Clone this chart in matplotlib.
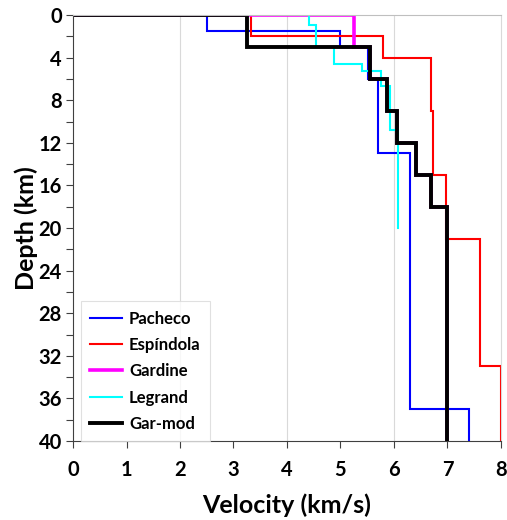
import matplotlib
matplotlib.use("Agg")
import matplotlib.pyplot as plt
from matplotlib.ticker import MultipleLocator

plt.rcParams['font.family'] = ['Lato', 'DejaVu Sans']
plt.rcParams['font.weight'] = 'bold'

# Layer-boundary depths (km) and layer velocities (km/s); start velocity at surface
pacheco_depth = [0, 1.5, 3, 6, 13, 37, 40]
pacheco_vel = [2.5, 5.0, 5.52, 5.7, 6.3, 7.4]
pacheco_start = 0.0

espindola_depth = [0, 2, 4, 9, 15, 21, 33, 40]
espindola_vel = [3.33, 5.8, 6.69, 6.72, 6.98, 7.6, 8.0]
espindola_start = 0.0

gardine_depth = [0, 3, 6, 9, 12, 15, 18, 40]
gardine_vel = [5.25, 5.55, 5.86, 6.05, 6.41, 6.7, 7.0]
gardine_start = 0.0

legrand_depth = [0, 0.9, 3, 4.6, 5.3, 6.7, 10.8, 20]
legrand_vel = [4.41, 4.55, 4.87, 5.40, 5.76, 5.93, 6.08]
legrand_start = 4.22

garmod_depth = [0, 3, 6, 9, 12, 15, 18, 40]
garmod_vel = [3.25, 5.55, 5.86, 6.05, 6.41, 6.7, 7.0]
garmod_start = 0.0

series = [
    ("Pacheco", pacheco_depth, pacheco_vel, pacheco_start, "#0000ff", 1.5),
    ("Espíndola", espindola_depth, espindola_vel, espindola_start, "#ff0000", 1.5),
    ("Gardine", gardine_depth, gardine_vel, gardine_start, "#ff00ff", 2.6),
    ("Legrand", legrand_depth, legrand_vel, legrand_start, "#00ffff", 1.5),
    ("Gar-mod", garmod_depth, garmod_vel, garmod_start, "#000000", 2.8),
]


def step_profile(depths, vels, start):
    xs = [start]
    ys = [depths[0]]
    for i, v in enumerate(vels):
        xs += [v, v]
        ys += [depths[i], depths[i + 1]]
    return xs, ys


fig = plt.figure(figsize=(5.07, 5.20), dpi=100)
ax = fig.add_axes([73 / 507, 1 - 441 / 520, 428 / 507, 426 / 520])

for name, d, v, s, c, lw in series:
    xs, ys = step_profile(d, v, s)
    ax.plot(xs, ys, color=c, lw=lw, label=name, solid_joinstyle='miter')

ax.set_xlim(0, 8)
ax.set_ylim(40, 0)
ax.xaxis.set_major_locator(MultipleLocator(1))
ax.yaxis.set_major_locator(MultipleLocator(4))
ax.yaxis.set_minor_locator(MultipleLocator(2))
for x in [2, 4, 6]:
    ax.axvline(x, color="#d9d9d9", lw=0.8, zorder=0)

ax.spines['top'].set_color("#bfbfbf")
ax.spines['right'].set_color("#d9d9d9")
ax.spines['left'].set_color("#404040")
ax.spines['bottom'].set_color("#404040")
for sp in ax.spines.values():
    sp.set_linewidth(0.8)

ax.tick_params(axis='both', which='major', direction='out', length=5, width=0.8,
               color="#404040", labelsize=14.5)
ax.tick_params(axis='y', which='minor', direction='out', length=5, width=0.8, color="#404040")
ax.tick_params(axis='x', pad=9)
ax.tick_params(axis='y', pad=3)
for lab in ax.get_xticklabels() + ax.get_yticklabels():
    lab.set_fontweight('bold')

ax.set_xlabel("Velocity (km/s)", fontsize=18, fontweight='bold', labelpad=9)
ax.set_ylabel("Depth (km)", fontsize=18, fontweight='bold', labelpad=0)

leg = ax.legend(loc='lower left', bbox_to_anchor=(0.018, 0.0), borderaxespad=0,
                frameon=True, fancybox=False, edgecolor="#d9d9d9",
                prop={'size': 12, 'weight': 'bold'}, handlelength=1.9,
                labelspacing=0.62, borderpad=0.55, handletextpad=0.45)
leg.get_frame().set_linewidth(0.8)

fig.savefig("out.png", dpi=100)
